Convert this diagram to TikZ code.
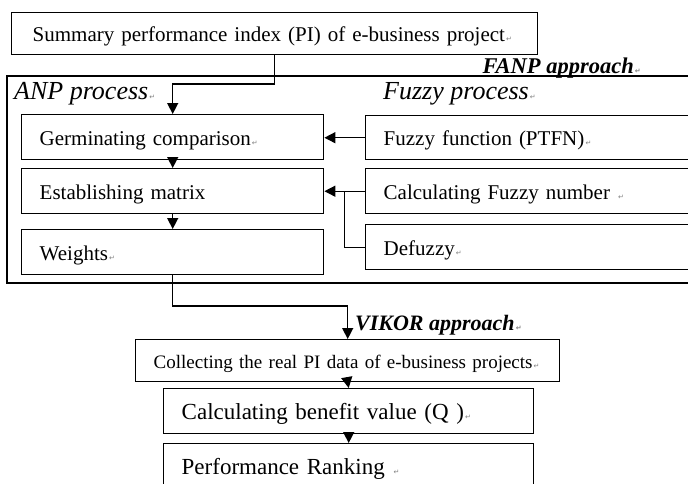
\documentclass[tikz,border=0pt]{standalone}
\usepackage{fontspec}
\setmainfont{Liberation Serif}
\newfontfamily\retfont{DejaVu Sans}
\usepackage{tikz}
\usetikzlibrary{arrows.meta, positioning, calc}

% paragraph mark as printed in the picture
\newcommand{\ret}{{\retfont\color{gray}\fontsize{7}{7}\selectfont\,^^^^21b5}}

\begin{document}
\begin{tikzpicture}[
    x=1pt, y=-1pt,
    stage/.style={draw, line width=1.4pt, anchor=north west, align=left, inner xsep=18pt, inner ysep=0pt, minimum height=45pt, text width=#1, text height=16pt, text depth=0pt, font=\fontsize{21}{25}\selectfont},
    stage/.default=266pt,
    head/.style={anchor=base west, inner sep=0pt, font=\fontsize{26}{30}\selectfont\itshape},
    tag/.style={inner sep=0pt, font=\fontsize{22.5}{26}\selectfont\bfseries\itshape},
    arr/.style={-{Triangle[length=11pt,width=11pt]}, line width=1.4pt},
    link/.style={line width=1.4pt}
]
\path[use as bounding box, clip] (0,0) rectangle (688,483);

% Top box
\node[stage=484pt, inner xsep=21pt, minimum height=42pt] (sum) at (11,12) {Summary performance index (PI) of e-business project\ret};

% FANP frame
\draw[line width=1.4pt] (7,76) rectangle (705,283);
\node[tag, anchor=base east] (fanp) at (641,73) {FANP approach\ret};
\node[head] (anp) at (14,99) {ANP process\ret};
\node[head] (fuz) at (383,99) {Fuzzy process\ret};

% ANP side
\node[stage] (germ) at (21,114) {Germinating comparison\ret};
\node[stage] (est) at (21,168) {Establishing matrix};
\node[stage] (wts) at (21,229) {Weights\ret};

% Fuzzy side
\node[stage=304pt, minimum height=44pt] (fz) at (365,115) {Fuzzy function (PTFN)\ret};
\node[stage=304pt] (calc) at (365,168) {Calculating Fuzzy number \ret};
\node[stage=304pt] (defz) at (365,224) {Defuzzy\ret};

% VIKOR part
\node[tag, anchor=base west, font=\fontsize{22}{26}\selectfont\bfseries\itshape] (vikor) at (355,330) {VIKOR approach\ret};
\node[stage=388pt, minimum height=42pt, font=\fontsize{19}{23}\selectfont] (col) at (135,339) {Collecting the real PI data of e-business projects\ret};
\node[stage=334pt, font=\fontsize{23}{27}\selectfont] (ben) at (163,388) {Calculating benefit value (Q\ )\ret};
\node[stage=334pt, font=\fontsize{23}{27}\selectfont] (rank) at (163,443) {Performance Ranking \ret};

% connectors
\coordinate (j1) at (0,84);
\coordinate (j2) at (0,306);
\coordinate (jn) at ($(est.east)!0.5!(calc.west)$);
\draw[arr] (sum.south) -- (sum.south |- j1) -| (germ.north);
\draw[arr] (fz.west) -- (fz.west -| germ.east);
\draw[arr] (germ.south) -- (est.north);
\draw[arr] (est.south) -- (wts.north);
\draw[arr] (calc.west) -- (est.east);
\draw[link] (defz.west) -| (jn);
\draw[arr] (wts.south) -- (wts.south |- j2) -| (col.north);
\draw[arr] (col.south) -- (ben.north);
\draw[arr] (ben.south) -- (rank.north);

\end{tikzpicture}
\end{document}
